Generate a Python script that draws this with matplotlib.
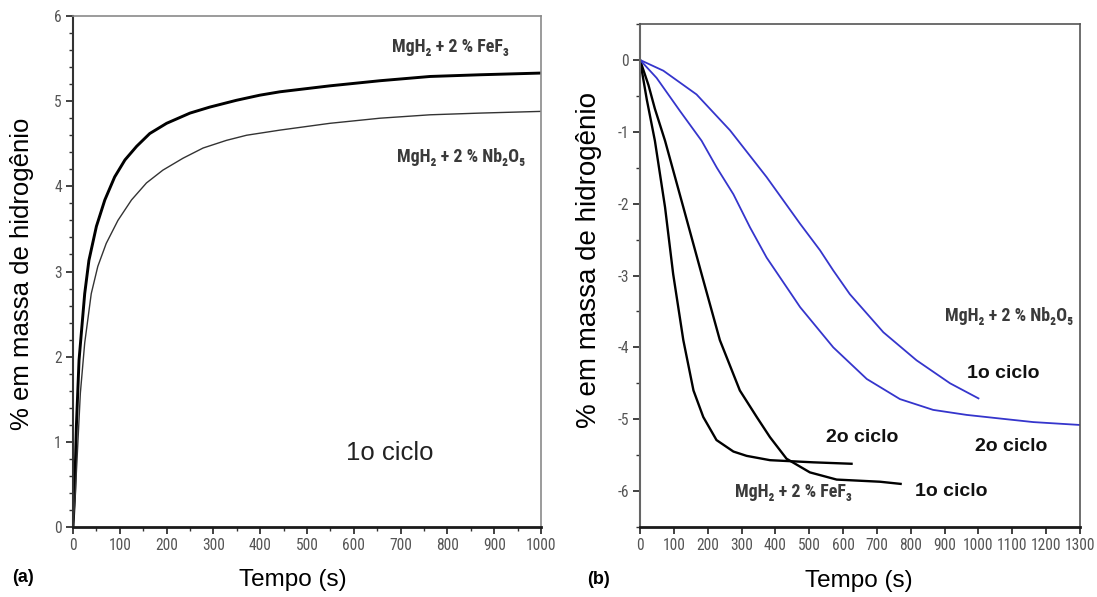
import matplotlib
matplotlib.use("Agg")
import matplotlib.pyplot as plt
from matplotlib.ticker import MultipleLocator
from matplotlib import font_manager as fm

plt.rcParams['font.family'] = ['Liberation Sans', 'DejaVu Sans']
plt.rcParams['axes.unicode_minus'] = False

# ---- Panel (a): absorption, 1st cycle ----
a_fef3_t = [0, 3.6, 7.2, 12.9, 25, 34, 50, 68, 89, 111, 136, 164, 200, 250, 292, 349, 399,
            442, 549, 656, 763, 870, 1000]
a_fef3_w = [0, 0.4, 1.18, 1.96, 2.74, 3.13, 3.53, 3.84, 4.11, 4.31, 4.47, 4.62, 4.74, 4.86,
            4.93, 5.01, 5.07, 5.11, 5.18, 5.24, 5.29, 5.31, 5.33]
a_nb_t = [0, 4, 8.6, 15.7, 25, 39, 53, 71, 96, 125, 157, 192, 235, 278, 328, 371, 442, 549,
          656, 763, 870, 1000]
a_nb_w = [0, 0.3, 0.79, 1.57, 2.16, 2.74, 3.06, 3.33, 3.60, 3.84, 4.04, 4.19, 4.33, 4.45,
          4.54, 4.60, 4.66, 4.74, 4.80, 4.84, 4.86, 4.88]

# ---- Panel (b): desorption ----
b_fef3_c2_t = [0, 20, 44, 74, 98, 128, 158, 187, 226, 276, 315, 384, 512, 625]
b_fef3_c2_w = [0, -0.55, -1.125, -2.05, -2.98, -3.90, -4.60, -4.97, -5.29, -5.45, -5.51,
               -5.57, -5.6, -5.62]
b_fef3_c1_t = [0, 25, 44, 74, 128, 182, 236, 295, 345, 384, 433, 502, 581, 709, 770]
b_fef3_c1_w = [0, -0.35, -0.68, -1.125, -2.05, -2.98, -3.90, -4.60, -4.97, -5.25, -5.55,
               -5.74, -5.84, -5.87, -5.9]
b_nb_c2_t = [0, 49, 118, 182, 227, 276, 325, 374, 453, 473, 571, 670, 768, 866, 965, 1063,
             1162, 1300]
b_nb_c2_w = [0, -0.25, -0.71, -1.125, -1.5, -1.87, -2.33, -2.75, -3.30, -3.44, -4.0, -4.44,
             -4.72, -4.87, -4.94, -4.99, -5.04, -5.08]
b_nb_c1_t = [0, 69, 167, 266, 374, 473, 532, 571, 620, 719, 817, 916, 1000]
b_nb_c1_w = [0, -0.15, -0.48, -0.98, -1.63, -2.28, -2.65, -2.93, -3.26, -3.79, -4.18, -4.5,
             -4.71]

lbl_fef3 = 'MgH\u2082 + 2 % FeF\u2083'
lbl_nb = 'MgH\u2082 + 2 % Nb\u2082O\u2085'

# pick a narrow font for tick labels / sample labels if one is installed
names = {f.name for f in fm.fontManager.ttflist}
narrow = None
for n in ['Liberation Sans Narrow', 'Roboto Condensed', 'Open Sans Condensed',
          'DejaVu Sans Condensed']:
    if n in names:
        narrow = n
        break
if narrow is None:
    narrow_kw = dict(family=['DejaVu Sans'], stretch='condensed')
else:
    narrow_kw = dict(family=[narrow, 'DejaVu Sans'], stretch='condensed')

fig = plt.figure(figsize=(10.97, 5.97), dpi=100)
W, H = 1097, 597
axA = fig.add_axes([73 / W, 1 - 527 / H, (541 - 73) / W, (527 - 16) / H])
axB = fig.add_axes([640 / W, 1 - 527 / H, (1080 - 640) / W, (527 - 24) / H])


def style(ax, side_color):
    for s in ['top', 'right']:
        ax.spines[s].set_color(side_color)
        ax.spines[s].set_linewidth(1.2)
    ax.spines['left'].set_color('#333333')
    ax.spines['left'].set_linewidth(1.5)
    ax.spines['bottom'].set_color('#1a1a1a')
    ax.spines['bottom'].set_linewidth(2.0)
    ax.tick_params(which='both', direction='out', top=False, right=False,
                   colors='#333333', labelcolor='#555555', pad=3)
    ax.tick_params(which='major', length=5, width=1.3)
    ax.tick_params(which='minor', length=3, width=1.0)
    for lab in ax.get_xticklabels() + ax.get_yticklabels():
        lab.set_fontfamily(narrow_kw['family'])
        lab.set_fontstretch(narrow_kw['stretch'])
        lab.set_fontsize(11.2)


sample_kw = dict(fontsize=13, fontweight='bold', color='#3a3a3a', **narrow_kw)
cyc_kw = dict(fontsize=14, fontweight='bold', color='#111111')

# Panel (a)
axA.plot(a_fef3_t, a_fef3_w, color='black', lw=2.1)
axA.plot(a_nb_t, a_nb_w, color='#333333', lw=1.0)
axA.set_xlim(0, 1000)
axA.set_ylim(0, 6)
axA.xaxis.set_major_locator(MultipleLocator(100))
axA.xaxis.set_minor_locator(MultipleLocator(50))
axA.yaxis.set_major_locator(MultipleLocator(1))
axA.yaxis.set_minor_locator(MultipleLocator(0.2))
style(axA, '#8a8a8a')
axA.set_xlabel('Tempo (s)', fontsize=17.5)
axA.xaxis.set_label_coords(0.47, -0.082)
axA.set_ylabel('% em massa de hidrogênio', fontsize=18.5)
axA.yaxis.set_label_coords(-0.083, 0.495)
axA.text(806, 5.64, lbl_fef3, ha='center', va='center', **sample_kw)
axA.text(830, 4.35, lbl_nb, ha='center', va='center', **sample_kw)
axA.text(676, 0.87, '1o ciclo', ha='center', va='center', fontsize=18.5, color='#222222')

# Panel (b)
blue = '#3535cc'
axB.plot(b_fef3_c2_t, b_fef3_c2_w, color='black', lw=1.7)
axB.plot(b_fef3_c1_t, b_fef3_c1_w, color='black', lw=1.7)
axB.plot(b_nb_c2_t, b_nb_c2_w, color=blue, lw=1.3)
axB.plot(b_nb_c1_t, b_nb_c1_w, color=blue, lw=1.3)
axB.set_xlim(0, 1300)
axB.set_ylim(-6.5, 0.5)
axB.xaxis.set_major_locator(MultipleLocator(100))
axB.yaxis.set_major_locator(MultipleLocator(1))
axB.yaxis.set_minor_locator(MultipleLocator(0.5))
style(axB, '#555555')
axB.spines['left'].set_color('#666666')
axB.set_xlabel('Tempo (s)', fontsize=17.5)
axB.xaxis.set_label_coords(0.497, -0.086)
axB.set_ylabel('% em massa de hidrogênio', fontsize=20)
axB.yaxis.set_label_coords(-0.086, 0.53)
axB.text(1090, -3.56, lbl_nb, ha='center', va='center', **sample_kw)
axB.text(1072, -4.36, '1o ciclo', ha='center', va='center', **cyc_kw)
axB.text(656, -5.26, '2o ciclo', ha='center', va='center', **cyc_kw)
axB.text(1096, -5.375, '2o ciclo', ha='center', va='center', **cyc_kw)
axB.text(919, -6.0, '1o ciclo', ha='center', va='center', **cyc_kw)
axB.text(452, -6.01, lbl_fef3, ha='center', va='center', **sample_kw)

fig.text(12 / W, 1 - 578 / H, '(a)', fontsize=13, fontweight='bold', va='center', ha='left')
fig.text(587 / W, 1 - 580 / H, '(b)', fontsize=13, fontweight='bold', va='center', ha='left')

fig.savefig('out.png', dpi=100)
